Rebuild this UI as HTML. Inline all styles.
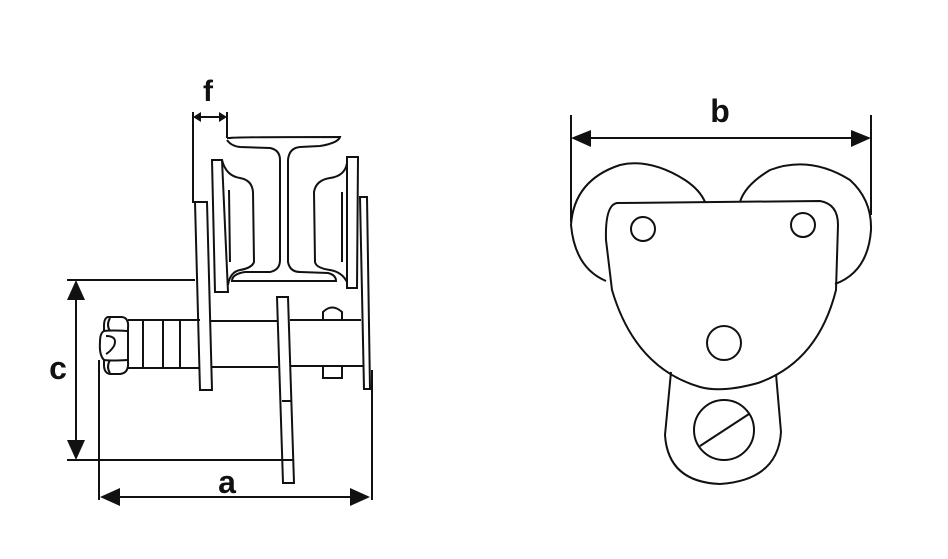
<!DOCTYPE html>
<html><head><meta charset="utf-8"><style>
html,body{margin:0;padding:0;background:#fff;}
svg{display:block;}
text{font-family:"Liberation Sans",sans-serif;font-weight:bold;fill:#111;}
</style></head><body>
<svg width="948" height="559" viewBox="0 0 948 559" xmlns="http://www.w3.org/2000/svg">
<g fill="none" stroke="#111" stroke-width="2">
<line x1="193" y1="112" x2="193" y2="203"/>
<line x1="227" y1="112" x2="227" y2="138"/>
<line x1="197" y1="117" x2="223" y2="117"/>
<path d="M227 138 L230 138 Q233 137 340 137 Q338 143 320 146 L300 147 Q289 148 288 160 L288 262 Q290 272 300 272 L328 273 Q336 275 336 281 L232 281 Q232 274 245 272 L270 272 Q280 270 280 260 L280 160 Q280 150 270 148 L240 147 Q231 146 227 140"/>
<path d="M212 160 L222 160 L228 292 L215 292 Z"/>
<path d="M222 160 Q226 176 240 178 Q252 180 253 192 L254 262 Q252 268 240 270 Q230 272 228 285"/>
<path d="M229 190 L230 262"/>
<path d="M347 157 L358 157 L357 288 L347 288 Z"/>
<path d="M347 163 Q345 176 330 178 Q316 180 314 192 L315 262 Q316 268 330 270 Q342 272 347 282"/>
<path d="M342 192 L342 262"/>
<path d="M195 202 L207 202 L212 390 L200 390 Z"/>
<path d="M360 197 L367 197 L370 389 L364 389 Z"/>
<line x1="128" y1="320" x2="200" y2="320"/>
<line x1="128" y1="368" x2="200" y2="368"/>
<line x1="211" y1="321" x2="278" y2="321"/>
<line x1="212" y1="367" x2="278" y2="367"/>
<line x1="290" y1="320" x2="361" y2="320"/>
<line x1="290" y1="366" x2="363" y2="366"/>
<line x1="143" y1="320" x2="143" y2="368"/>
<line x1="163" y1="320" x2="163" y2="368"/>
<line x1="180" y1="320" x2="180" y2="368"/>
<!-- nut -->
<path d="M108 317 L122 317 Q129 318 128 328 L128 362 Q129 373 120 374 L110 374 Q104 373 104 365 L104 360 Q99 355 100 342 Q100 333 104 331 L104 326 Q104 318 108 317 Z"/>
<path d="M104 331 Q112 330 127 331 M104 360 Q112 361 127 360"/>
<path d="M110 318 Q106 325 110 331 M110 360 Q106 367 110 373"/>
<path d="M106 336 Q118 336 114 346 Q110 352 106 354"/>
<path d="M277 297 L288 297 L294 483 L283 483 Z"/>
<line x1="282" y1="401" x2="292" y2="401"/>
<path d="M323 320 L323 312 Q332 303 342 312 L342 320"/>
<path d="M323 367 L323 378 L342 378 L342 367"/>
<line x1="67" y1="280" x2="195" y2="280"/>
<line x1="67" y1="460" x2="293" y2="460"/>
<line x1="76" y1="290" x2="76" y2="452"/>
<line x1="99" y1="360" x2="99" y2="500"/>
<line x1="372" y1="370" x2="372" y2="500"/>
<line x1="108" y1="497" x2="362" y2="497"/>
<line x1="571" y1="115" x2="571" y2="222"/>
<line x1="871" y1="115" x2="871" y2="215"/>
<line x1="580" y1="138" x2="862" y2="138"/>
<path d="M606 281 Q575 268 571 225 Q574 180 620 165 Q650 158 685 180 Q700 190 705 202"/>
<path d="M740 202 Q745 185 770 170 Q810 155 850 180 Q872 200 871 230 Q868 272 835 284"/>
<path d="M617 203 L820 201 Q838 204 838 225 L836 290 Q818 362 758 383 Q722 393 700 387 Q635 368 612 290 L606 240 Q605 205 617 203 Z"/>
<circle cx="643" cy="229" r="12"/>
<circle cx="803" cy="225" r="12"/>
<circle cx="724" cy="343" r="17"/>
<path d="M671 372 L665 435 Q668 482 720 484 Q778 480 781 432 L776 374"/>
<circle cx="724" cy="430" r="30"/>
<line x1="700" y1="446" x2="749" y2="414"/>
</g>
<g fill="#111">
<polygon points="76,280 67,300 85,300"/>
<polygon points="76,460 67,440 85,440"/>
<polygon points="100,497 120,488 120,506"/>
<polygon points="370,497 350,488 350,506"/>
<polygon points="571,138 591,130 591,147"/>
<polygon points="871,138 851,130 851,147"/>
<polygon points="193,117 201,112 201,122"/>
<polygon points="227,117 219,112 219,122"/>
</g>
<text x="208" y="101" font-size="30" text-anchor="middle">f</text>
<text x="58" y="379" font-size="32" text-anchor="middle">c</text>
<text x="227" y="493" font-size="32" text-anchor="middle">a</text>
<text x="720" y="122" font-size="32" text-anchor="middle">b</text>
</svg>
</body></html>
